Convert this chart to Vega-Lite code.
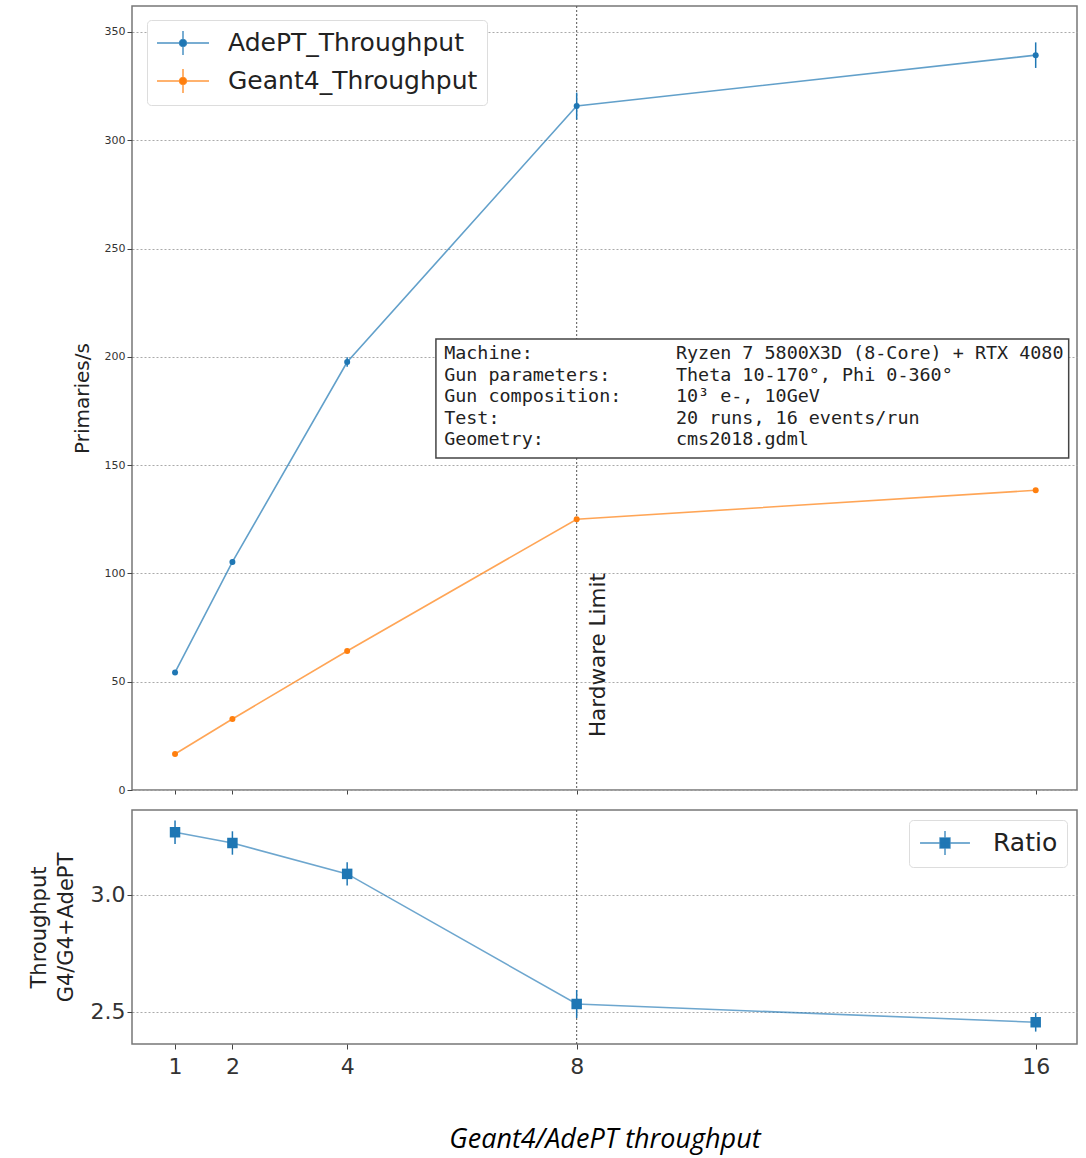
{
  "$schema": "https://vega.github.io/schema/vega-lite/v6.json",
  "padding": {"left": 27, "top": 4, "right": 5, "bottom": 5},
  "background": "white",
  "config": {
    "font": "DejaVu Sans",
    "view": {"stroke": "#777", "strokeWidth": 1.5},
    "axis": {
      "labelFont": "DejaVu Sans",
      "titleFont": "DejaVu Sans",
      "titleFontWeight": "normal",
      "domain": false,
      "tickColor": "#444",
      "labelColor": "#333",
      "titleColor": "#222",
      "gridColor": "#aaa",
      "gridDash": [2, 2],
      "gridWidth": 1
    }
  },
  "datasets": {
    "throughput": [
      {"x": 1, "series": "AdePT_Throughput", "val": 54.3, "err": 1.0},
      {"x": 2, "series": "AdePT_Throughput", "val": 105.3, "err": 1.2},
      {"x": 4, "series": "AdePT_Throughput", "val": 197.6, "err": 2.2},
      {"x": 8, "series": "AdePT_Throughput", "val": 315.8, "err": 6.2},
      {"x": 16, "series": "AdePT_Throughput", "val": 339.3, "err": 5.9},
      {"x": 1, "series": "Geant4_Throughput", "val": 16.6, "err": 0.5},
      {"x": 2, "series": "Geant4_Throughput", "val": 32.8, "err": 0.5},
      {"x": 4, "series": "Geant4_Throughput", "val": 64.2, "err": 0.7},
      {"x": 8, "series": "Geant4_Throughput", "val": 125.0, "err": 0.8},
      {"x": 16, "series": "Geant4_Throughput", "val": 138.4, "err": 0.8}
    ],
    "ratio": [
      {"x": 1, "series": "Ratio", "val": 3.268, "err": 0.05},
      {"x": 2, "series": "Ratio", "val": 3.222, "err": 0.05},
      {"x": 4, "series": "Ratio", "val": 3.09, "err": 0.05},
      {"x": 8, "series": "Ratio", "val": 2.534, "err": 0.06},
      {"x": 16, "series": "Ratio", "val": 2.456, "err": 0.04}
    ]
  },
  "spacing": 12,
  "resolve": {"scale": {"color": "independent"}, "legend": {"color": "independent"}},
  "vconcat": [
    {
      "width": 945,
      "height": 784,
      "layer": [
        {
          "data": {"values": [{}]},
          "mark": {"type": "rule", "color": "#555", "strokeWidth": 1, "strokeDash": [2, 2]},
          "encoding": {
            "x": {"datum": 8, "type": "quantitative", "scale": {"domain": [0.25, 16.72], "nice": false, "zero": false}}
          }
        },
        {
          "data": {"values": [{}]},
          "mark": {"type": "rect", "fill": "white", "stroke": "#444", "strokeWidth": 1.5},
          "encoding": {
            "x": {"datum": 5.547, "type": "quantitative"},
            "x2": {"datum": 16.575},
            "y": {"datum": 208.2, "type": "quantitative"},
            "y2": {"datum": 153.3}
          }
        },
        {
          "data": {"values": [{}]},
          "mark": {"type": "text", "text": ["Machine:", "Gun parameters:", "Gun composition:", "Test:", "Geometry:"], "align": "left", "baseline": "top", "font": "DejaVu Sans Mono", "fontSize": 18.4, "lineHeight": 21.5, "color": "#222"},
          "encoding": {
            "x": {"datum": 5.69, "type": "quantitative"},
            "y": {"datum": 205.8, "type": "quantitative"}
          }
        },
        {
          "data": {"values": [{}]},
          "mark": {"type": "text", "text": ["Ryzen 7 5800X3D (8-Core) + RTX 4080", "Theta 10-170°, Phi 0-360°", "10³ e-, 10GeV", "20 runs, 16 events/run", "cms2018.gdml"], "align": "left", "baseline": "top", "font": "DejaVu Sans Mono", "fontSize": 18.4, "lineHeight": 21.5, "color": "#222"},
          "encoding": {
            "x": {"datum": 9.73, "type": "quantitative"},
            "y": {"datum": 205.8, "type": "quantitative"}
          }
        },
        {
          "data": {"values": [{}]},
          "mark": {"type": "text", "text": "Hardware Limit", "angle": 270, "align": "center", "baseline": "middle", "font": "DejaVu Sans", "fontSize": 21.5, "color": "#222"},
          "encoding": {
            "x": {"datum": 8.387, "type": "quantitative"},
            "y": {"datum": 62.3, "type": "quantitative"}
          }
        },
        {
          "data": {"name": "throughput"},
          "mark": {"type": "errorbar", "thickness": 1.5},
          "encoding": {
            "x": {"field": "x", "type": "quantitative"},
            "y": {"field": "val", "type": "quantitative", "title": "Primaries/s"},
            "yError": {"field": "err"},
            "color": {"field": "series", "type": "nominal", "scale": {"domain": ["AdePT_Throughput", "Geant4_Throughput"], "range": ["#1f77b4", "#ff7f0e"]}}
          }
        },
        {
          "data": {"name": "throughput"},
          "mark": {"type": "line", "strokeWidth": 1.6, "opacity": 0.7},
          "encoding": {
            "x": {"field": "x", "type": "quantitative"},
            "y": {"field": "val", "type": "quantitative", "title": "Primaries/s"},
            "color": {"field": "series", "type": "nominal", "scale": {"domain": ["AdePT_Throughput", "Geant4_Throughput"], "range": ["#1f77b4", "#ff7f0e"]}}
          }
        },
        {
          "data": {"name": "throughput"},
          "mark": {"type": "point", "filled": true, "size": 36, "opacity": 1},
          "encoding": {
            "x": {
              "field": "x", "type": "quantitative",
              "scale": {"domain": [0.25, 16.72], "nice": false, "zero": false},
              "axis": {"values": [1, 2, 4, 8, 16], "labels": false, "ticks": true, "tickSize": 4, "grid": false, "title": null}
            },
            "y": {
              "field": "val", "type": "quantitative",
              "scale": {"domain": [0, 362], "nice": false, "zero": false},
              "axis": {"values": [0, 50, 100, 150, 200, 250, 300, 350], "labelFontSize": 11, "tickSize": 5, "grid": true, "title": "Primaries/s", "titleFontSize": 20, "titlePadding": 12}
            },
            "color": {
              "field": "series", "type": "nominal",
              "scale": {"domain": ["AdePT_Throughput", "Geant4_Throughput"], "range": ["#1f77b4", "#ff7f0e"]},
              "legend": {
                "title": null, "orient": "none", "legendX": 15, "legendY": 14,
                "labelFontSize": 25, "labelFont": "DejaVu Sans", "labelColor": "#222", "labelLimit": 0,
                "symbolType": "M-2,0H2M0,-0.92V0.92M0.27,0A0.27,0.27 0 1,1 -0.27,0A0.27,0.27 0 1,1 0.27,0Z",
                "symbolSize": 676, "symbolStrokeWidth": 1.5, "symbolOpacity": 1, "rowPadding": 8, "symbolOffset": 13, "labelOffset": 31,
                "padding": 9, "strokeColor": "#ddd", "fillColor": "white", "cornerRadius": 4,
                "encode": {"symbols": {"update": {
                  "fill": {"signal": "datum.value === 'AdePT_Throughput' ? '#1f77b4' : '#ff7f0e'"},
                  "stroke": {"signal": "datum.value === 'AdePT_Throughput' ? '#1f77b4' : '#ff7f0e'"},
                  "opacity": {"value": 1},
                  "fillOpacity": {"value": 1},
                  "strokeOpacity": {"value": 0.8}
                }}}
              }
            }
          }
        }
      ]
    },
    {
      "width": 945,
      "height": 234,
      "layer": [
        {
          "data": {"values": [{}]},
          "mark": {"type": "rule", "color": "#555", "strokeWidth": 1, "strokeDash": [2, 2]},
          "encoding": {
            "x": {"datum": 8, "type": "quantitative", "scale": {"domain": [0.25, 16.72], "nice": false, "zero": false}}
          }
        },
        {
          "data": {"name": "ratio"},
          "mark": {"type": "errorbar", "thickness": 1.5},
          "encoding": {
            "x": {"field": "x", "type": "quantitative"},
            "y": {"field": "val", "type": "quantitative", "title": ["Throughput", "G4/G4+AdePT"]},
            "yError": {"field": "err"},
            "color": {"field": "series", "type": "nominal", "scale": {"domain": ["Ratio"], "range": ["#1f77b4"]}}
          }
        },
        {
          "data": {"name": "ratio"},
          "mark": {"type": "line", "strokeWidth": 1.6, "opacity": 0.65},
          "encoding": {
            "x": {"field": "x", "type": "quantitative"},
            "y": {"field": "val", "type": "quantitative", "title": ["Throughput", "G4/G4+AdePT"]},
            "color": {"field": "series", "type": "nominal", "scale": {"domain": ["Ratio"], "range": ["#1f77b4"]}}
          }
        },
        {
          "data": {"name": "ratio"},
          "mark": {"type": "point", "shape": "square", "filled": true, "size": 110, "opacity": 1},
          "encoding": {
            "x": {
              "field": "x", "type": "quantitative",
              "scale": {"domain": [0.25, 16.72], "nice": false, "zero": false},
              "axis": {"values": [1, 2, 4, 8, 16], "format": "d", "labelFontSize": 22, "tickSize": 5, "labelPadding": 7, "grid": false,
                "title": "Geant4/AdePT throughput", "titleFont": "Open Sans", "titleFontStyle": "italic", "titleFontSize": 27, "titleColor": "#000", "titlePadding": 49}
            },
            "y": {
              "field": "val", "type": "quantitative",
              "scale": {"domain": [2.363, 3.363], "nice": false, "zero": false},
              "axis": {"values": [2.5, 3.0], "format": ".1f", "labelFontSize": 22, "tickSize": 5, "grid": true,
                "title": ["Throughput", "G4/G4+AdePT"], "titleFontSize": 21, "titleLineHeight": 27, "titlePadding": 14}
            },
            "color": {
              "field": "series", "type": "nominal",
              "scale": {"domain": ["Ratio"], "range": ["#1f77b4"]},
              "legend": {
                "title": null, "orient": "top-right", "offset": 10,
                "labelFontSize": 25, "labelFont": "DejaVu Sans", "labelColor": "#222", "labelLimit": 0,
                "symbolType": "M-1.92,0H1.92M0,-0.92V0.92M-0.38,-0.38H0.38V0.38H-0.38Z",
                "symbolSize": 676, "symbolStrokeWidth": 1.5, "symbolOpacity": 1, "rowPadding": 0, "symbolOffset": 13, "labelOffset": 34,
                "padding": 9, "strokeColor": "#ddd", "fillColor": "white", "cornerRadius": 4,
                "encode": {"symbols": {"update": {
                  "fill": {"value": "#1f77b4"},
                  "stroke": {"value": "#1f77b4"},
                  "opacity": {"value": 1},
                  "fillOpacity": {"value": 1},
                  "strokeOpacity": {"value": 0.8}
                }}}
              }
            }
          }
        }
      ]
    }
  ]
}
